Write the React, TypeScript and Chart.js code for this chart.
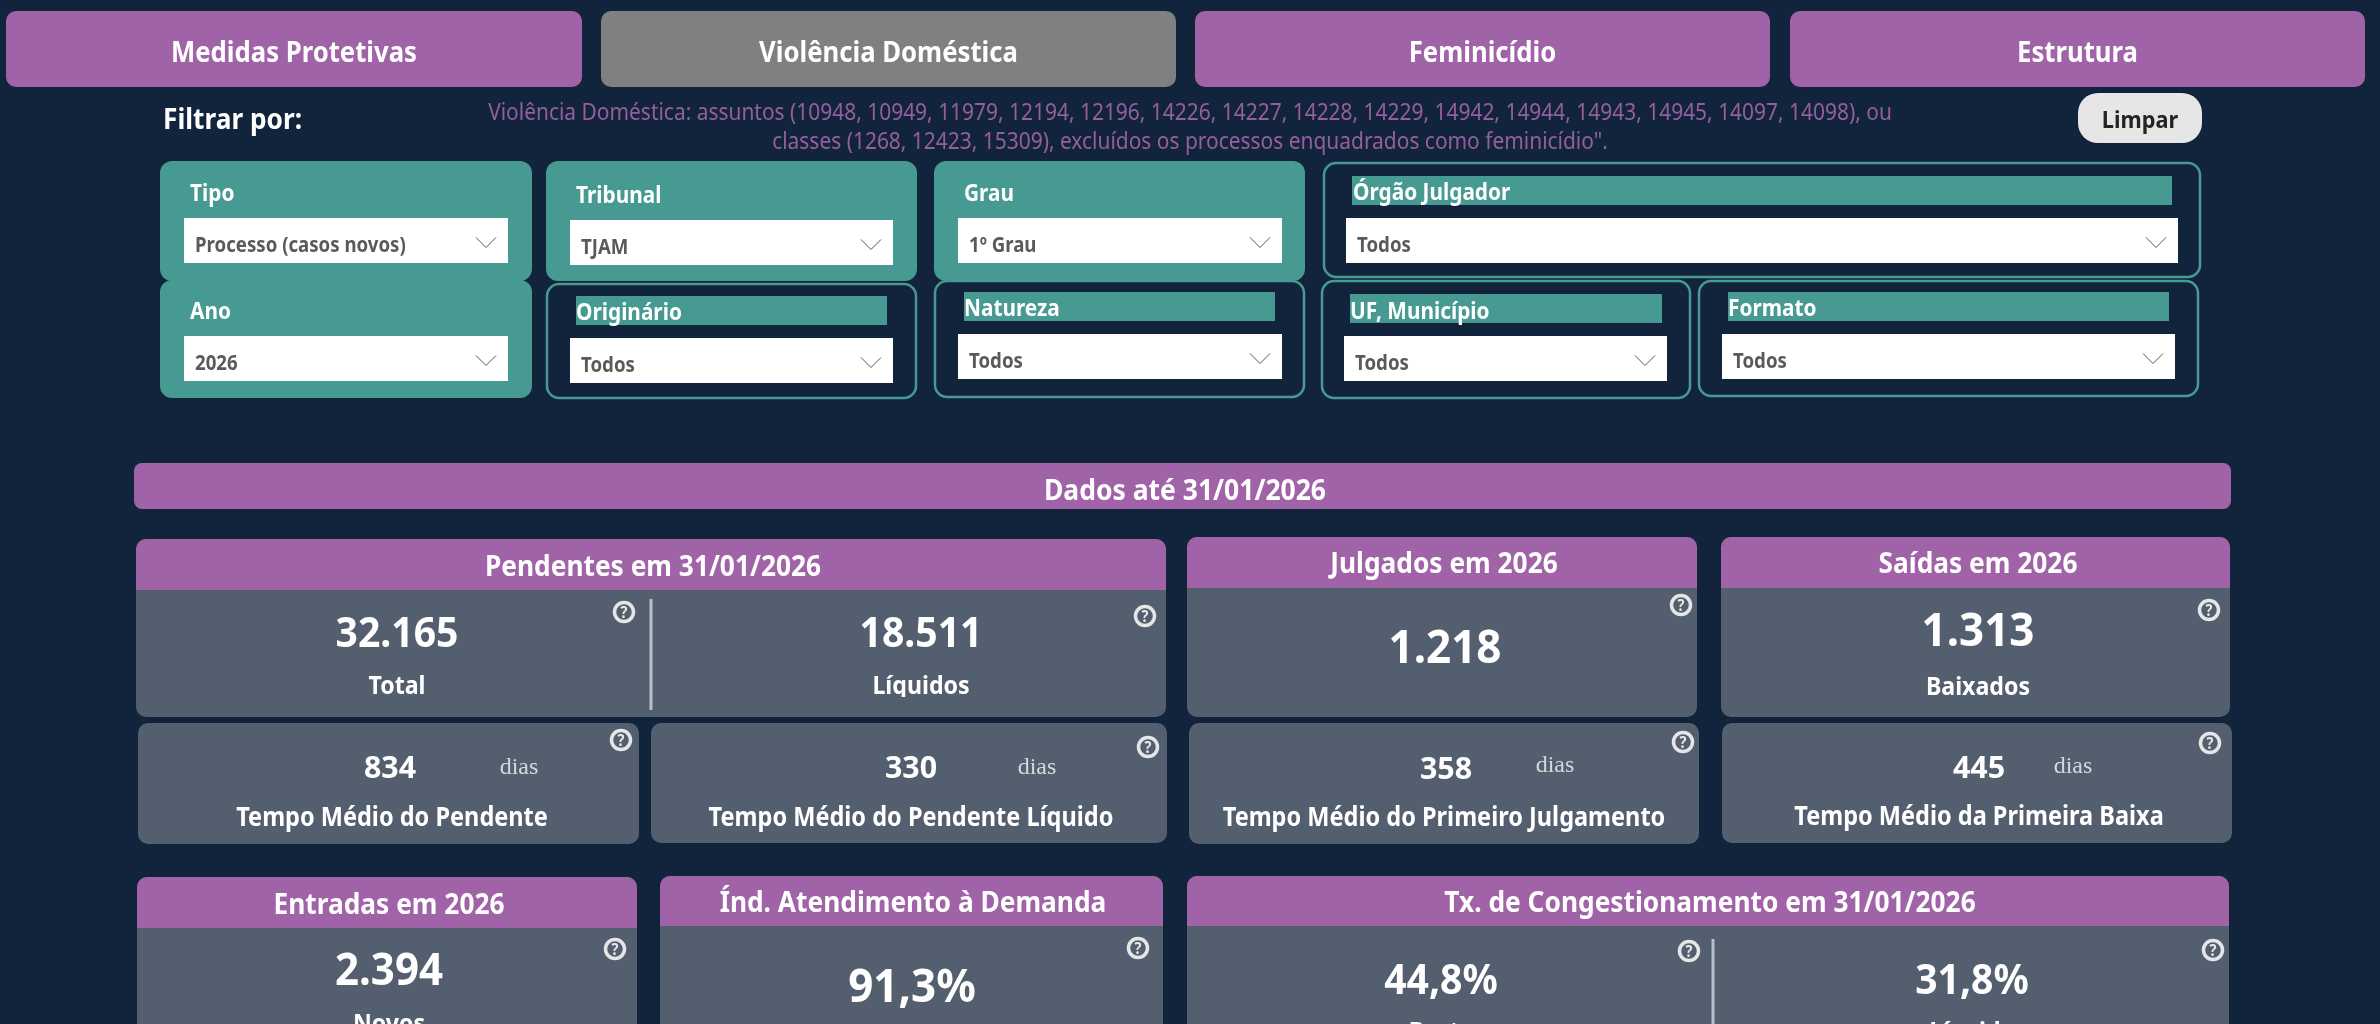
import React, { useEffect, useRef } from 'react';
import { Chart, registerables, Plugin } from 'chart.js';

Chart.register(...registerables);

// Painel sem marcas de gráfico: só títulos, filtros e indicadores
const tabLabels = ['Medidas Protetivas', 'Violência Doméstica', 'Feminicídio', 'Estrutura'];
const filterTitle = 'Filtrar por:';
const clearLabel = 'Limpar';
const noteLines = [
  'Violência Doméstica: assuntos (10948, 10949, 11979, 12194, 12196, 14226, 14227, 14228, 14229, 14942, 14944, 14943, 14945, 14097, 14098), ou',
  'classes (1268, 12423, 15309), excluídos os processos enquadrados como feminicídio".',
];
const filterLabels = ['Tipo', 'Tribunal', 'Grau', 'Órgão Julgador', 'Ano', 'Originário', 'Natureza', 'UF, Município', 'Formato'];
const filterValues = ['Processo (casos novos)', 'TJAM', '1º Grau', 'Todos', '2026', 'Todos', 'Todos', 'Todos', 'Todos'];
const dataDate = 'Dados até 31/01/2026';
const panelTitles = ['Pendentes em 31/01/2026', 'Julgados em 2026', 'Saídas em 2026', 'Entradas em 2026', 'Índ. Atendimento à Demanda', 'Tx. de Congestionamento em 31/01/2026'];
const countValues = [32165, 18511, 1218, 1313, 2394];
const countLabels = ['Total', 'Líquidos', '', 'Baixados', 'Novos'];
const dayValues = [834, 330, 358, 445];
const dayLabels = ['Tempo Médio do Pendente', 'Tempo Médio do Pendente Líquido', 'Tempo Médio do Primeiro Julgamento', 'Tempo Médio da Primeira Baixa'];
const rateValues = [91.3, 44.8, 31.8];
const rateLabels = ['', 'Bruta', 'Líquida'];

const BG = '#12243c';
const PURPLE = '#a163a8';
const GREY_TAB = '#808080';
const TEAL = '#469a91';
const TILE = '#535f6f';
const SANS = '"Noto Sans", "Open Sans", sans-serif';
const SQUEEZE = 0.905; // o original usa uma fonte um pouco mais estreita
const SQUEEZE_TITLE = 0.92;
const SQUEEZE_VALUE = 0.955;

// [x0, x1, y0, y1]
const tabBoxes = [[6, 582, 11, 87], [601, 1176, 11, 87], [1195, 1770, 11, 87], [1790, 2365, 11, 87]];
// caixa, campo branco, posição do rótulo, fim da faixa (0 = caixa preenchida)
const filterBoxes = [
  { box: [160, 532, 161, 281], input: [184, 508, 218, 263], lx: 190, ly: 193, band: [0, 0] },
  { box: [546, 917, 161, 281], input: [570, 893, 220, 265], lx: 576, ly: 195, band: [0, 0] },
  { box: [934, 1305, 161, 281], input: [958, 1282, 218, 263], lx: 964, ly: 193, band: [0, 0] },
  { box: [1323, 2201, 162, 278], input: [1346, 2178, 218, 263], lx: 1353, ly: 192, band: [176, 205], bx: [1352, 2172] },
  { box: [160, 532, 280, 398], input: [184, 508, 336, 381], lx: 190, ly: 311, band: [0, 0] },
  { box: [546, 917, 283, 399], input: [570, 893, 338, 383], lx: 576, ly: 312, band: [296, 325], bx: [576, 887] },
  { box: [934, 1305, 280, 398], input: [958, 1282, 334, 379], lx: 964, ly: 308, band: [292, 321], bx: [964, 1275] },
  { box: [1321, 1691, 280, 399], input: [1344, 1667, 336, 381], lx: 1350, ly: 311, band: [294, 323], bx: [1350, 1662] },
  { box: [1698, 2199, 280, 397], input: [1722, 2175, 334, 379], lx: 1728, ly: 308, band: [292, 321], bx: [1728, 2169] },
];
const panelBoxes = [
  { box: [136, 1166, 539, 717], head: 590, tx: 653, ty: 566 },
  { box: [1187, 1697, 537, 717], head: 588, tx: 1444, ty: 563 },
  { box: [1721, 2230, 537, 717], head: 588, tx: 1978, ty: 563 },
  { box: [137, 637, 877, 1040], head: 928, tx: 389, ty: 904 },
  { box: [660, 1163, 876, 1040], head: 926, tx: 913, ty: 902 },
  { box: [1187, 2229, 876, 1040], head: 926, tx: 1710, ty: 902 },
];
const countPlaces = [
  { x: 397, y: 632, ly: 685, size: 41, ix: 624, iy: 612 },
  { x: 921, y: 632, ly: 685, size: 41, ix: 1145, iy: 616, clip: 697 },
  { x: 1445, y: 647, ly: 0, size: 46, ix: 1681, iy: 605 },
  { x: 1978, y: 630, ly: 686, size: 46, ix: 2209, iy: 610 },
  { x: 389, y: 969, ly: 1023, size: 44, ix: 615, iy: 949 },
];
const dayCards = [
  { box: [138, 639, 723, 844], x: 390, y: 767, dx: 519, dy: 765, lx: 392, ly: 817, ix: 621, iy: 740 },
  { box: [651, 1167, 723, 843], x: 911, y: 767, dx: 1037, dy: 765, lx: 911, ly: 817, ix: 1148, iy: 747 },
  { box: [1189, 1699, 723, 844], x: 1446, y: 768, dx: 1555, dy: 763, lx: 1444, ly: 817, ix: 1683, iy: 742 },
  { box: [1722, 2232, 723, 843], x: 1979, y: 767, dx: 2073, dy: 764, lx: 1979, ly: 816, ix: 2210, iy: 743 },
];
const ratePlaces = [
  { x: 912, y: 986, ly: 0, size: 46, ix: 1138, iy: 948 },
  { x: 1441, y: 979, ly: 1031, size: 41, ix: 1689, iy: 951 },
  { x: 1972, y: 979, ly: 1031, size: 41, ix: 2213, iy: 950 },
];
const dividers = [[651, 599, 710], [1713, 939, 1040]];

const fmtCount = new Intl.NumberFormat('pt-BR');
const fmtRate = new Intl.NumberFormat('pt-BR', { minimumFractionDigits: 1, maximumFractionDigits: 1 });

const dashboardPlugin: Plugin = {
  id: 'dashboard',
  beforeDraw(chart) {
    const ctx = chart.ctx;
    const px = (v: number) => chart.scales.x.getPixelForValue(v);
    const py = (v: number) => chart.scales.y.getPixelForValue(v);

    const rect = (b: number[], fill: string, r: number | number[] = 0) => {
      ctx.beginPath();
      ctx.roundRect(px(b[0]), py(b[2]), px(b[1]) - px(b[0]), py(b[3]) - py(b[2]), r);
      ctx.fillStyle = fill;
      ctx.fill();
    };
    const text = (s: string, x: number, y: number, font: string, color: string, align: CanvasTextAlign = 'center', squeeze = SQUEEZE) => {
      ctx.font = font;
      ctx.fillStyle = color;
      ctx.textAlign = align;
      ctx.textBaseline = 'alphabetic';
      const m = ctx.measureText(s);
      // y é o centro da altura das maiúsculas
      const size = parseFloat(font.split(' ')[1]);
      ctx.fillText(s, px(x), py(y) + size * 0.357, m.width * squeeze);
    };
    const help = (x: number, y: number) => {
      ctx.beginPath();
      ctx.arc(px(x), py(y), 9.5, 0, Math.PI * 2);
      ctx.strokeStyle = '#e6e6e6';
      ctx.lineWidth = 3.5;
      ctx.stroke();
      text('?', x, y, `700 16px ${SANS}`, '#e6e6e6');
    };

    ctx.save();
    rect([0, 2380, 0, 1024], BG);

    tabLabels.forEach((label, i) => {
      const b = tabBoxes[i];
      rect(b, i === 1 ? GREY_TAB : PURPLE, 10);
      text(label, (b[0] + b[1]) / 2, 52, `700 28.4px ${SANS}`, '#ffffff');
    });

    text(filterTitle, 163, 119, `700 29px ${SANS}`, '#ffffff', 'left');
    noteLines.forEach((line, i) => {
      text(line, 1190, 112 + i * 29, `400 23px ${SANS}`, '#945f9c', 'center', 0.91);
    });
    rect([2078, 2202, 93, 143], '#e6e6e6', 20);
    text(clearLabel, 2140, 119, `700 24px ${SANS}`, '#252423');

    filterLabels.forEach((label, i) => {
      const f = filterBoxes[i];
      const [x0, x1, y0, y1] = f.box;
      if (f.bx) {
        ctx.beginPath();
        ctx.roundRect(px(x0) + 1, py(y0) + 1, x1 - x0 - 2, y1 - y0 - 2, 12);
        ctx.strokeStyle = TEAL;
        ctx.lineWidth = 2.5;
        ctx.stroke();
        rect([f.bx[0], f.bx[1], f.band[0], f.band[1]], TEAL);
      } else {
        rect(f.box, TEAL, 12);
      }
      text(label, f.lx, f.ly, `700 23px ${SANS}`, '#ffffff', 'left');
      rect(f.input, '#ffffff');
      const iy = (f.input[2] + f.input[3]) / 2;
      text(filterValues[i], f.input[0] + 11, iy + 4, `700 20.6px ${SANS}`, '#5a5a5a', 'left');
      ctx.beginPath();
      ctx.moveTo(px(f.input[1] - 32), py(iy - 3));
      ctx.lineTo(px(f.input[1] - 22), py(iy + 7));
      ctx.lineTo(px(f.input[1] - 12), py(iy - 3));
      ctx.strokeStyle = '#555555';
      ctx.lineWidth = 1;
      ctx.stroke();
    });

    rect([134, 2231, 463, 509], PURPLE, 8);
    text(dataDate, 1185, 490, `700 28.8px ${SANS}`, '#ffffff', 'center', SQUEEZE_TITLE);

    panelTitles.forEach((title, i) => {
      const p = panelBoxes[i];
      rect(p.box, TILE, 10);
      rect([p.box[0], p.box[1], p.box[2], p.head], PURPLE, [10, 10, 0, 0]);
      text(title, p.tx, p.ty, `700 28.6px ${SANS}`, '#ffffff', 'center', SQUEEZE_TITLE);
    });

    dividers.forEach(([x, y0, y1]) => rect([x - 1.5, x + 1.5, y0, y1], '#b9bfc7'));

    countValues.forEach((v, i) => {
      const p = countPlaces[i];
      text(fmtCount.format(v), p.x, p.y, `700 ${p.size}px ${SANS}`, '#ffffff', 'center', SQUEEZE_VALUE);
      help(p.ix, p.iy);
      if (!countLabels[i]) return;
      ctx.save();
      if (p.clip) {
        ctx.beginPath();
        ctx.rect(0, 0, 2380, py(p.clip));
        ctx.clip();
      }
      text(countLabels[i], p.x, p.ly, `700 25.6px ${SANS}`, '#ffffff');
      ctx.restore();
    });

    dayValues.forEach((v, i) => {
      const c = dayCards[i];
      rect(c.box, TILE, 10);
      text(String(v), c.x, c.y, `700 31px ${SANS}`, '#ffffff', 'center', 0.98);
      text('dias', c.dx, c.dy, '400 24px "Liberation Serif", serif', '#d6d8dc', 'center', 1);
      text(dayLabels[i], c.lx, c.ly, `700 26px ${SANS}`, '#ffffff');
      help(c.ix, c.iy);
    });

    rateValues.forEach((v, i) => {
      const p = ratePlaces[i];
      text(`${fmtRate.format(v)}%`, p.x, p.y, `700 ${p.size}px ${SANS}`, '#ffffff', 'center', SQUEEZE_VALUE);
      help(p.ix, p.iy);
      if (rateLabels[i]) text(rateLabels[i], p.x, p.ly, `700 25.6px ${SANS}`, '#ffffff');
    });
    ctx.restore();
  },
};

export default function App() {
  const canvasRef = useRef<HTMLCanvasElement>(null);

  useEffect(() => {
    document.body.style.margin = '0';
    document.body.style.background = BG;
    if (!canvasRef.current) return;
    const chart = new Chart(canvasRef.current, {
      type: 'scatter',
      data: { datasets: [] },
      options: {
        animation: false,
        responsive: false,
        devicePixelRatio: 1,
        layout: { padding: 0 },
        plugins: { legend: { display: false }, tooltip: { enabled: false } },
        scales: {
          x: { type: 'linear', min: 0, max: 2380, display: false },
          y: { type: 'linear', min: 0, max: 1024, reverse: true, display: false },
        },
      },
      plugins: [dashboardPlugin],
    });
    return () => chart.destroy();
  }, []);

  return <canvas ref={canvasRef} width={2380} height={1024} style={{ display: 'block' }} />;
}
